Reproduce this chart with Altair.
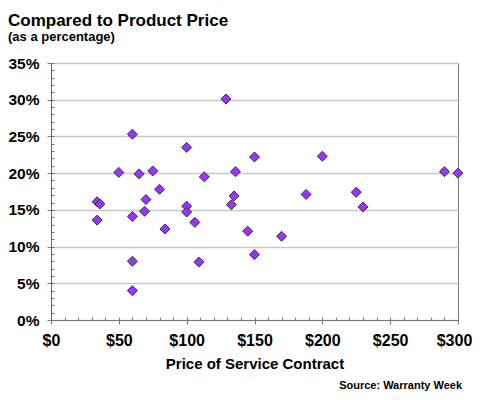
import altair as alt
import pandas as pd

# Data
price = [34, 36, 34, 50, 60, 60, 65, 70, 69, 75, 80, 84, 100, 100, 100, 106, 113,
         60, 60, 109, 129, 150, 200, 136, 135, 188, 133, 145, 170, 150, 290, 300, 225, 230]
pct = [16.1, 15.8, 13.6, 20.1, 25.3, 14.1, 19.9, 16.4, 14.8, 20.3, 17.8, 12.4, 23.5, 15.5, 14.7, 13.3, 19.5,
       8.0, 4.0, 7.9, 30.1, 22.2, 22.3, 20.2, 16.9, 17.1, 15.7, 12.1, 11.4, 8.9, 20.2, 20.0, 17.4, 15.4]

x_major = [0, 50, 100, 150, 200, 250, 300]
x_minor = list(range(0, 301, 10))
y_major = [0, 5, 10, 15, 20, 25, 30, 35]
y_minor = list(range(0, 36, 1))

title_text = "Compared to Product Price"
subtitle_text = "(as a percentage)"
x_title = "Price of Service Contract"
source_text = "Source: Warranty Week"

FONT = "Liberation Sans"
W, H = 407, 257

df = pd.DataFrame({"price": price, "pct": pct})

xscale = alt.Scale(domain=[0, 300], nice=False, zero=False)
yscale = alt.Scale(domain=[0, 35], nice=False, zero=False)

points = alt.Chart(df).mark_point(
    shape="diamond", filled=True, size=100, fill="#9933FF", stroke="#333333",
    strokeWidth=1, opacity=1
).encode(
    x=alt.X("price:Q", scale=xscale, axis=alt.Axis(
        orient="bottom", values=x_major, labelExpr="'$' + datum.value",
        title=x_title, titleFont=FONT, titleFontSize=15, titleFontWeight="bold",
        titleColor="black", titleBaseline="alphabetic", titleY=48, titleX=W / 2,
        labelFont=FONT, labelFontSize=16, labelFontWeight="bold", labelColor="black",
        labelOffset={"condition": {"test": "datum.value == 300", "value": -4}, "value": 0},
        labelPadding=8, tickSize=4, tickColor="#777777", domainColor="#777777",
        grid=False, labelFlush=False, labelOverlap=False)),
    y=alt.Y("pct:Q", scale=yscale, axis=alt.Axis(
        orient="left", values=y_major, labelExpr="datum.value + '%'",
        title=None, labelFont=FONT, labelFontSize=15.5, labelFontWeight="bold",
        labelColor="black", labelPadding=8, tickSize=4, tickColor="#777777",
        domainColor="#666666", grid=True, gridColor="#c8c8c8", gridWidth=1.5,
        labelFlush=False, labelOverlap=False)),
)

minor = alt.Chart(df).mark_point(opacity=0).encode(
    x=alt.X("price:Q", scale=xscale, axis=alt.Axis(
        orient="top", offset=-H, values=x_minor, labels=False, domain=False,
        grid=False, tickSize=3, tickColor="#777777", title=None)),
    y=alt.Y("pct:Q", scale=yscale, axis=alt.Axis(
        orient="right", offset=-W, values=y_minor, labels=False, domain=False,
        grid=False, tickSize=3, tickColor="#777777", title=None)),
)

title = alt.Chart(pd.DataFrame({"t": [title_text]})).mark_text(
    align="left", baseline="alphabetic", font=FONT, fontSize=17, fontWeight="bold", color="black"
).encode(text="t:N", x=alt.value(-43), y=alt.value(-37))

subtitle = alt.Chart(pd.DataFrame({"t": [subtitle_text]})).mark_text(
    align="left", baseline="alphabetic", font=FONT, fontSize=13, fontWeight="bold", color="black"
).encode(text="t:N", x=alt.value(-43), y=alt.value(-22))

source = alt.Chart(pd.DataFrame({"t": [source_text]})).mark_text(
    align="right", baseline="alphabetic", font=FONT, fontSize=11, fontWeight="bold", color="black"
).encode(text="t:N", x=alt.value(411), y=alt.value(326))

chart = alt.layer(minor, points, title, subtitle, source).resolve_axis(
    x="independent", y="independent"
).properties(
    width=W, height=H,
    padding={"left": 43, "top": 55, "right": 14, "bottom": 72},
    autosize=alt.AutoSizeParams(type="none"),
    background="white",
).configure_view(stroke="#777777", strokeWidth=1)

chart.save("out.html", embed_options={"renderer": "svg", "actions": False})
